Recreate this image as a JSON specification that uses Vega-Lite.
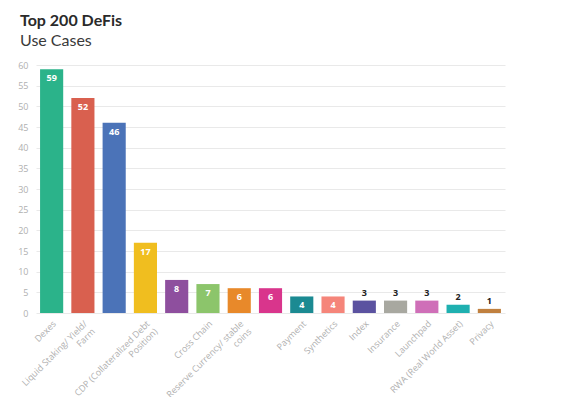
{
  "$schema": "https://vega.github.io/schema/vega-lite/v6.json",
  "autosize": "none",
  "width": 469,
  "height": 248,
  "padding": {"left": 36, "top": 65, "right": 78, "bottom": 84},
  "background": "white",
  "config": {"font": "Open Sans", "view": {"stroke": null}},
  "title": {
    "text": "Top 200 DeFis",
    "subtitle": "Use Cases",
    "anchor": "start",
    "frame": "group",
    "dx": -16,
    "offset": 12,
    "font": "Lato",
    "fontSize": 16,
    "fontWeight": "bold",
    "color": "#2a2a2a",
    "subtitleFont": "Lato",
    "subtitleFontSize": 16,
    "subtitleColor": "#3a3a3a",
    "subtitlePadding": 4
  },
  "data": {
    "values": [
      {"case": "Dexes", "value": 59},
      {"case": "Liquid Staking/ Yield/|Farm", "value": 52},
      {"case": "Lending", "value": 46},
      {"case": "CDP (Collateralized Debt|Position)", "value": 17},
      {"case": "Derivatives", "value": 8},
      {"case": "Cross Chain", "value": 7},
      {"case": "Reserve Currency/ stable|coins", "value": 6},
      {"case": "Yield Aggregator", "value": 6},
      {"case": "Payment", "value": 4},
      {"case": "Synthetics", "value": 4},
      {"case": "Index", "value": 3},
      {"case": "Insurance", "value": 3},
      {"case": "Launchpad", "value": 3},
      {"case": "RWA (Real World Asset)", "value": 2},
      {"case": "Privacy", "value": 1}
    ]
  },
  "encoding": {
    "x": {
      "field": "case", "type": "nominal", "sort": null,
      "scale": {"paddingInner": 0.26, "paddingOuter": 0.13},
      "axis": {"title": null, "labelAngle": -45, "labelFontSize": 9, "labelColor": "#b0b0b0", "domain": false, "ticks": false, "labelPadding": 6, "labelOverlap": false, "labelExpr": "indexof(['Lending','Derivatives','Yield Aggregator'], datum.label) >= 0 ? '' : split(datum.label, '|')", "labelLineHeight": 11}
    },
    "y": {
      "field": "value", "type": "quantitative",
      "scale": {"domain": [0, 60], "nice": false},
      "axis": {"title": null, "values": [0,5,10,15,20,25,30,35,40,45,50,55,60], "grid": true, "gridColor": "#e9e9e9", "domain": false, "ticks": false, "labelFontSize": 9, "labelColor": "#b0b0b0", "labelPadding": 8}
    }
  },
  "layer": [
    {
      "mark": {"type": "bar"},
      "encoding": {
        "color": {
          "field": "case", "type": "nominal", "legend": null, "sort": null,
          "scale": {"range": ["#2bb38a", "#d9604f", "#4b73b8", "#f0be1f", "#8e4f9e", "#8cc56b", "#e8892a", "#d9358c", "#1b8a92", "#f5857a", "#5b52a0", "#a8a8a0", "#cf6fb8", "#1fb0b0", "#c0803f"]}
        }
      }
    },
    {
      "transform": [{"filter": "datum.value >= 4"}],
      "mark": {"type": "text", "baseline": "top", "dy": 5, "color": "white", "fontWeight": "bold", "fontSize": 9},
      "encoding": {"text": {"field": "value", "type": "quantitative"}}
    },
    {
      "transform": [{"filter": "datum.value < 4"}],
      "mark": {"type": "text", "baseline": "bottom", "dy": -3, "color": "#222", "fontWeight": "bold", "fontSize": 9},
      "encoding": {"text": {"field": "value", "type": "quantitative"}}
    }
  ]
}
